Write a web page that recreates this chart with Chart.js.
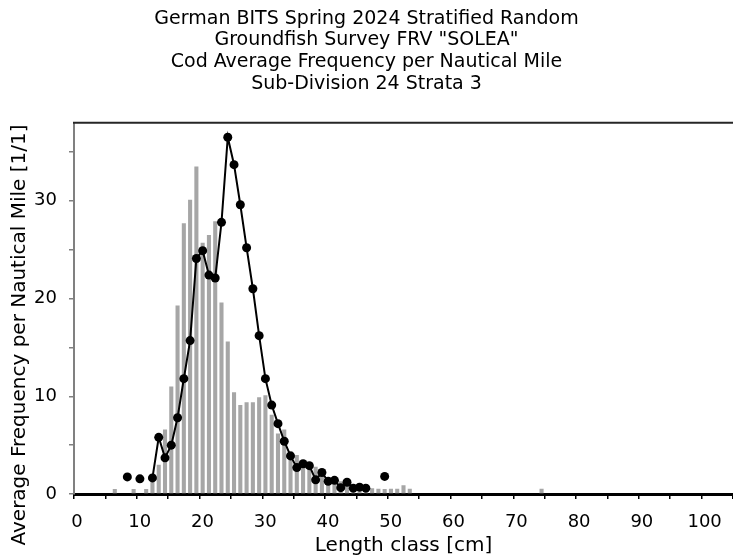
<!DOCTYPE html>
<html>
<head>
<meta charset="utf-8">
<script src="https://cdn.jsdelivr.net/npm/chart.js@4.4.1/dist/chart.umd.min.js"></script>
<style>
  body { margin: 0; background: #fff; }
  #wrap { width: 733px; height: 556px; }
</style>
</head>
<body>
<div id="wrap"><canvas id="myChart"></canvas></div>
<script>
// chart texts
const titleLines = [
  "German BITS Spring 2024 Stratified Random",
  "Groundfish Survey FRV \"SOLEA\"",
  "Cod Average Frequency per Nautical Mile",
  "Sub-Division 24 Strata 3"
];
const xTitle = "Length class [cm]";
const yTitle = "Average Frequency per Nautical Mile [1/1]";

// gray bars: length class [cm] and value
const barClasses = [6, 9, 11, 12, 13, 14, 15, 16, 17, 18, 19, 20, 21, 22, 23, 24, 25, 26, 27, 28, 29,
  30, 31, 32, 33, 34, 35, 36, 37, 38, 39, 40, 41, 42, 43, 44, 45, 46, 47, 48, 49, 50, 51, 52, 53, 74];
const barValues = [0.5, 0.5, 0.5, 1.4, 3.0, 6.6, 11.0, 19.3, 27.7, 30.1, 33.5, 25.7, 26.5, 27.9, 19.6, 15.6, 10.4, 9.1, 9.4, 9.4, 9.9,
  10.1, 8.1, 6.2, 6.6, 4.4, 4.0, 3.0, 3.1, 2.8, 2.1, 1.7, 1.4, 1.3, 1.0, 0.85, 0.85, 0.7, 0.6, 0.55, 0.5, 0.55, 0.55, 0.9, 0.55, 0.55];

// black line (null = gap)
const lineClasses = [8, 9, 10, 11, 12, 13, 14, 15, 16, 17, 18, 19, 20, 21, 22, 23, 24, 25, 26, 27, 28, 29,
  30, 31, 32, 33, 34, 35, 36, 37, 38, 39, 40, 41, 42, 43, 44, 45, 46, 47, 48, 49];
const lineValues = [1.75, null, 1.55, null, 1.65, 5.8, 3.7, 5.0, 7.8, 11.8, 15.7, 24.1, 24.9, 22.4, 22.1, 27.8, 36.5, 33.7, 29.6, 25.2, 21.0, 16.2,
  11.8, 9.1, 7.2, 5.4, 3.9, 2.7, 3.1, 2.9, 1.45, 2.2, 1.3, 1.4, 0.65, 1.2, 0.6, 0.7, 0.6, null, null, 1.8];

// values are drawn at the middle of each length class
const classOffset = 0.5;

const fontFamily = '"DejaVu Sans", Verdana, sans-serif';

const framePlugin = {
  id: "frame",
  afterDraw(chart) {
    const { ctx, chartArea } = chart;
    ctx.save();
    ctx.strokeStyle = "#262626";
    ctx.lineWidth = 2;
    ctx.beginPath();
    ctx.moveTo(chartArea.left - 1, chartArea.top);
    ctx.lineTo(chartArea.right, chartArea.top);
    ctx.stroke();

    // y axis title, a bit lower than the plot centre like the original
    ctx.translate(20, 335);
    ctx.rotate(-Math.PI / 2);
    ctx.font = "20px " + fontFamily;
    ctx.fillStyle = "#000";
    ctx.textAlign = "center";
    ctx.textBaseline = "middle";
    ctx.fillText(yTitle, 0, 0);
    ctx.restore();
  }
};

const barCanvas = document.getElementById("myChart");

const myChart = new Chart(barCanvas, {
  type: "bar",
  data: {
    datasets: [
      {
        type: "line",
        data: lineClasses.map((c, i) => ({ x: c + classOffset, y: lineValues[i] })),
        borderColor: "#000",
        borderWidth: 2,
        pointRadius: 4.5,
        pointBackgroundColor: "#000",
        pointBorderWidth: 0,
        spanGaps: false,
        tension: 0,
        order: 0
      },
      {
        type: "bar",
        data: barClasses.map((c, i) => ({ x: c + classOffset, y: barValues[i] })),
        backgroundColor: "#a6a6a6",
        borderWidth: 0,
        barPercentage: 0.65,
        categoryPercentage: 1,
        order: 1
      }
    ]
  },
  options: {
    responsive: true,
    maintainAspectRatio: false,
    animation: false,
    layout: { padding: 0, autoPadding: false },
    plugins: {
      legend: { display: false },
      tooltip: { enabled: false },
      title: {
        display: true,
        text: titleLines,
        color: "#000",
        font: { family: fontFamily, size: 19, weight: "normal", lineHeight: 1.14 },
        padding: { top: 8, bottom: 28 }
      }
    },
    scales: {
      x: {
        type: "linear",
        min: 0,
        max: 105,
        offset: false,
        afterFit: (s) => { s.height = 62; s.paddingRight = 0; },
        grid: { offset: false, drawOnChartArea: false, tickLength: 5, color: "#000", lineWidth: 1.5 },
        border: { color: "#000", width: 3 },
        ticks: {
          stepSize: 5,
          maxRotation: 0,
          autoSkip: false,
          padding: 13,
          labelOffset: 3,
          color: "#000",
          font: { family: fontFamily, size: 18 },
          callback: (v) => (v % 10 === 0 && v <= 100 ? v : "")
        },
        title: {
          display: true,
          text: xTitle,
          color: "#000",
          font: { family: fontFamily, size: 20, lineHeight: 1 },
          padding: { top: 0, bottom: 0 }
        }
      },
      y: {
        min: 0,
        max: 38,
        afterFit: (s) => { s.width = 74; },
        grid: { drawOnChartArea: false, tickLength: 5, color: "#808080", lineWidth: 1.5 },
        border: { color: "#808080", width: 2 },
        ticks: {
          stepSize: 5,
          includeBounds: false,
          padding: 12,
          color: "#000",
          font: { family: fontFamily, size: 18 },
          callback: (v) => (v % 10 === 0 ? v : "")
        }
      }
    }
  },
  plugins: [framePlugin]
});
</script>
</body>
</html>
